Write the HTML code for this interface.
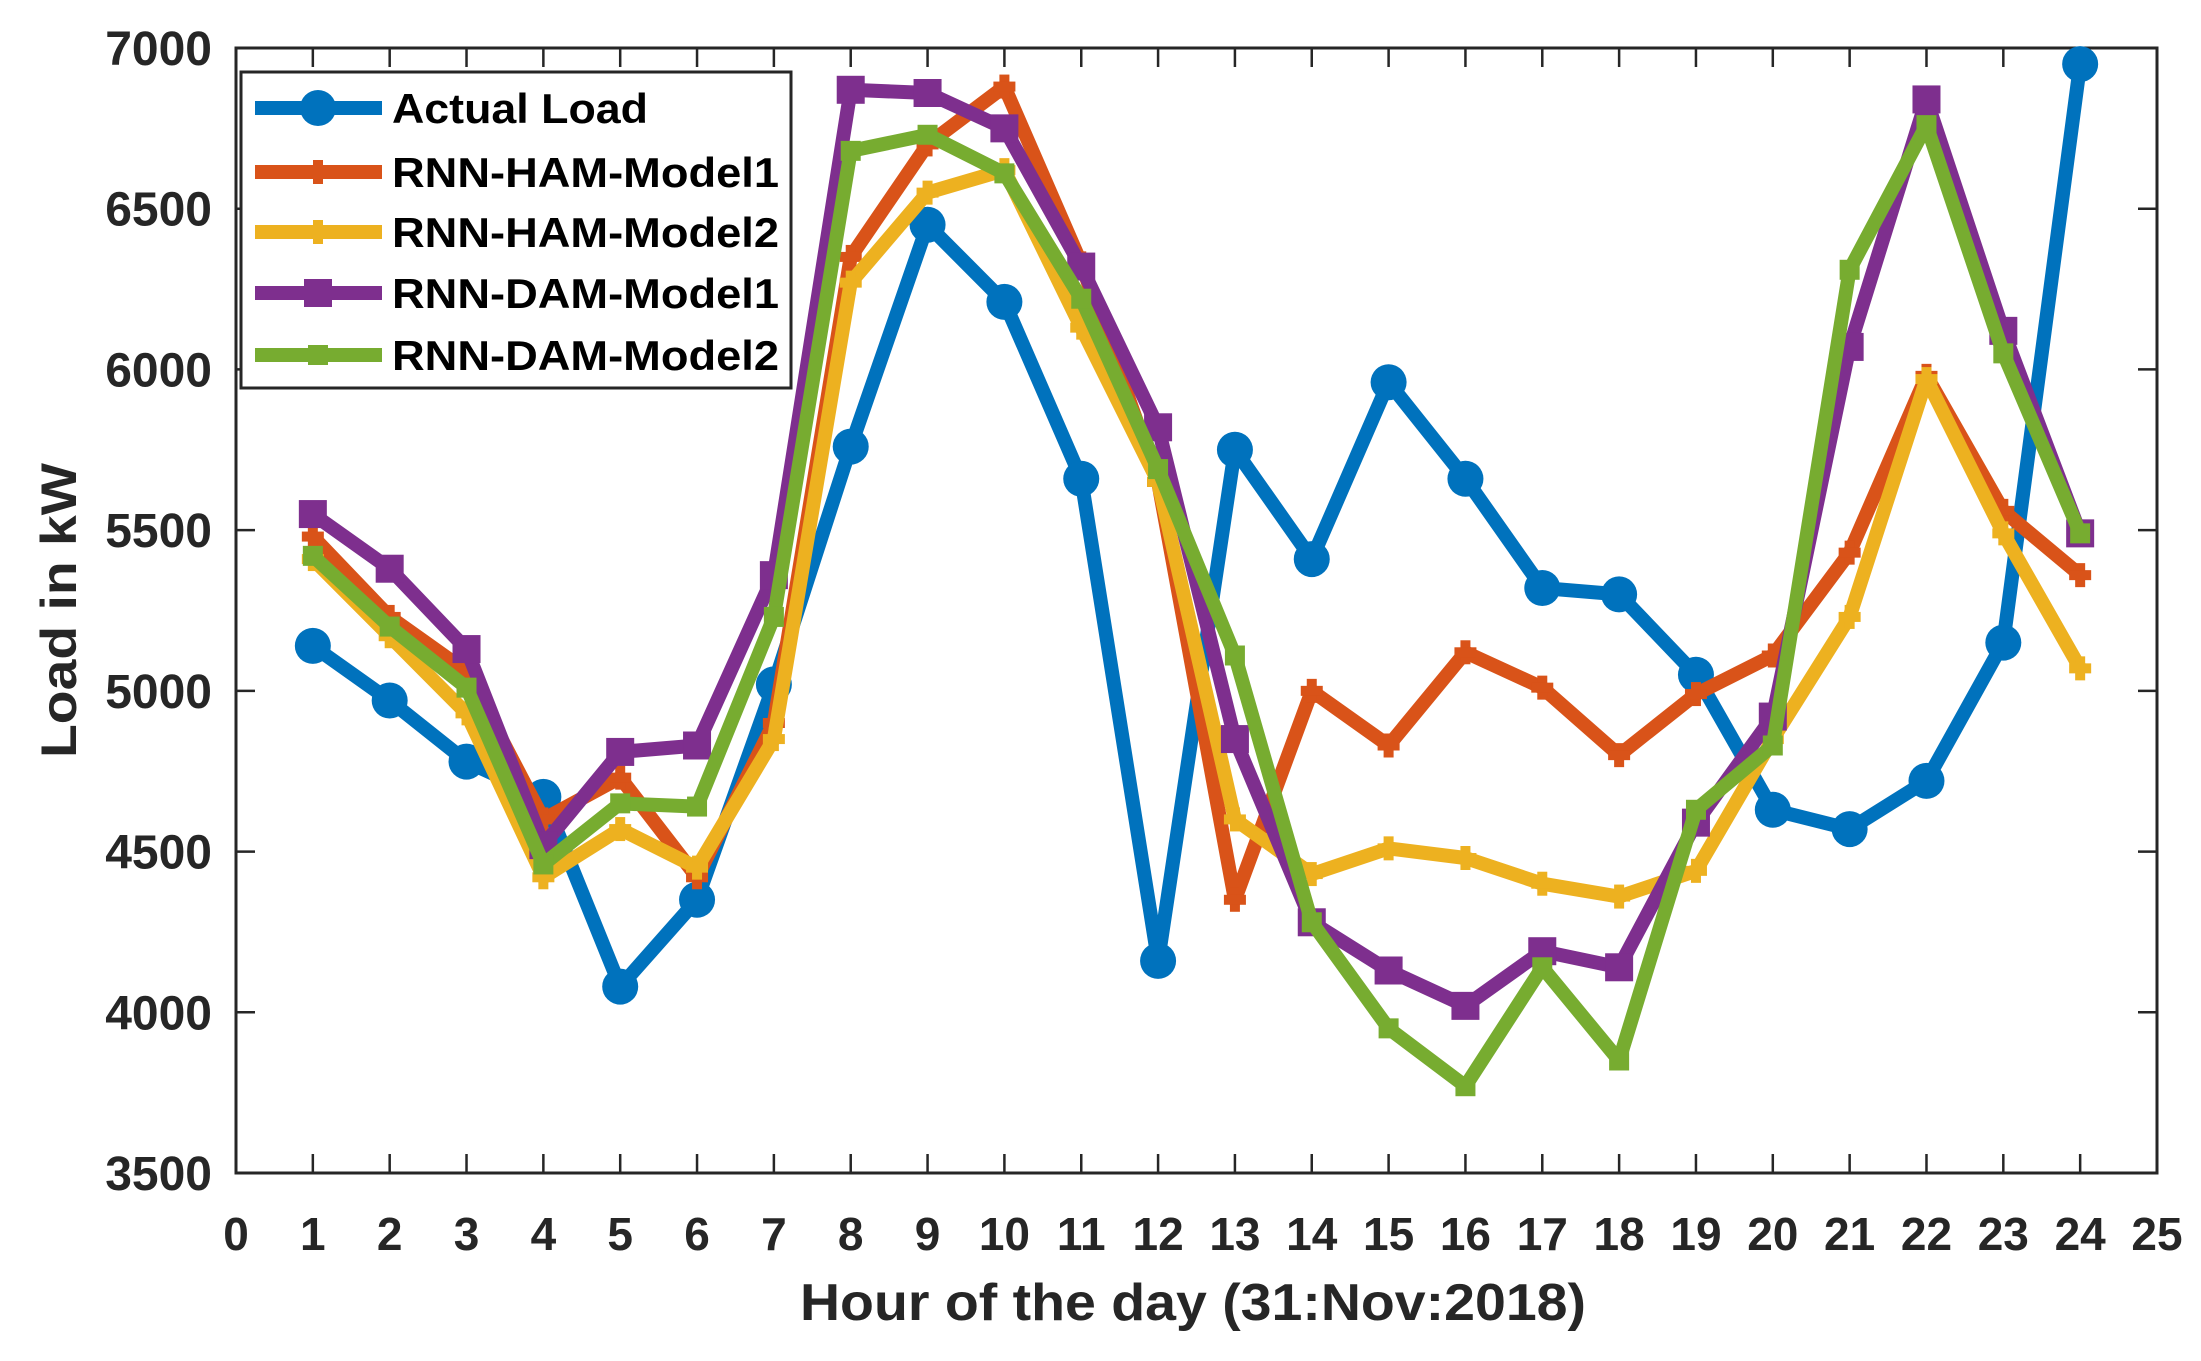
<!DOCTYPE html>
<html><head><meta charset="utf-8"><style>
html,body{margin:0;padding:0;background:#fff}
svg{display:block}
text{font-family:"Liberation Sans",Arial,sans-serif;font-weight:bold;fill:#262626}
</style></head><body>
<svg id="s" width="2201" height="1361" viewBox="0 0 2201 1361" xmlns="http://www.w3.org/2000/svg"></svg>
<script>
const s=document.getElementById('s');
const X0=236,X1=2157,Y0=48,Y1=1173;
const px=x=>X0+(X1-X0)*x/25, py=v=>Y0+(Y1-Y0)*(7000-v)/3500;
let h='';
const D=[
 ['#0072BD','o',[5140,4970,4780,4670,4080,4350,5020,5760,6450,6210,5660,4160,5750,5410,5960,5660,5320,5300,5050,4630,4570,4720,5150,6950]],
 ['#D95319','*',[5480,5230,5060,4600,4730,4420,4900,6350,6700,6880,6330,5650,4350,5000,4830,5120,5010,4800,4990,5110,5430,5980,5560,5360]],
 ['#EDB120','*',[5410,5170,4930,4420,4570,4450,4850,6270,6550,6620,6130,5650,4600,4430,4510,4480,4400,4360,4440,4850,5230,5970,5490,5070]],
 ['#7E2F8E','s',[5550,5380,5130,4520,4810,4830,5360,6870,6860,6750,6320,5820,4850,4280,4130,4020,4190,4140,4590,4920,6070,6840,6120,5490]],
 ['#77AC30','q',[5420,5200,5010,4460,4650,4640,5230,6680,6730,6610,6220,5690,5110,4280,3950,3770,4140,3850,4630,4830,6310,6760,6050,5490]]
];
function mk(t,c,x,y){
 if(t=='o')return `<circle cx="${x}" cy="${y}" r="18" fill="${c}"/>`;
 if(t=='s')return `<rect x="${x-14}" y="${y-14}" width="28" height="28" fill="${c}"/>`;
 if(t=='q')return `<rect x="${x-10}" y="${y-10}" width="20" height="20" fill="${c}"/>`;
 return `<rect x="${x-5}" y="${y-12}" width="10" height="24" fill="${c}"/><rect x="${x-11}" y="${y-5}" width="22" height="10" fill="${c}"/>`;
}
h+=`<rect x="${X0}" y="${Y0}" width="${X1-X0}" height="${Y1-Y0}" fill="#fff" stroke="#262626" stroke-width="3"/>`;
for(let i=0;i<=25;i++){const x=px(i);h+=`<line x1="${x}" y1="${Y1}" x2="${x}" y2="${Y1-19}" stroke="#262626" stroke-width="2.5"/><line x1="${x}" y1="${Y0}" x2="${x}" y2="${Y0+19}" stroke="#262626" stroke-width="2.5"/>`;
 h+=`<text x="${x}" y="1250" font-size="46" text-anchor="middle">${i}</text>`;}
for(let v=3500;v<=7000;v+=500){const y=py(v);h+=`<line x1="${X0}" y1="${y}" x2="${X0+19}" y2="${y}" stroke="#262626" stroke-width="2.5"/><line x1="${X1}" y1="${y}" x2="${X1-19}" y2="${y}" stroke="#262626" stroke-width="2.5"/>`;
 h+=`<text x="212" y="${y+17}" font-size="48" text-anchor="end">${v}</text>`;}
for(const [c,t,d] of D){
 const pts=d.map((v,i)=>px(i+1).toFixed(1)+','+py(v).toFixed(1)).join(' ');
 h+=`<polyline points="${pts}" fill="none" stroke="${c}" stroke-width="14" stroke-linejoin="round"/>`;
 d.forEach((v,i)=>h+=mk(t,c,px(i+1),py(v)));
}
h+=`<rect x="241" y="72" width="550" height="316" fill="#fff" stroke="#262626" stroke-width="3"/>`;
const L=['Actual Load','RNN-HAM-Model1','RNN-HAM-Model2','RNN-DAM-Model1','RNN-DAM-Model2'];
const LW=[256,387,387,387,387];
const LY=[108,172,232,293,355];
L.forEach((n,i)=>{const [c,t]=D[i];const y=LY[i];
 h+=`<line x1="255" y1="${y}" x2="382" y2="${y}" stroke="${c}" stroke-width="14"/>`+mk(t,c,318,y);
 h+=`<text x="392" y="${y+15}" font-size="42" style="fill:#000" textLength="${LW[i]}" lengthAdjust="spacingAndGlyphs">${n}</text>`;});
h+=`<text x="800" y="1320" font-size="52" textLength="786" lengthAdjust="spacingAndGlyphs">Hour of the day (31:Nov:2018)</text>`;
h+=`<text transform="translate(76,758) rotate(-90)" font-size="50" textLength="295" lengthAdjust="spacingAndGlyphs">Load in kW</text>`;
s.innerHTML=h;
</script>
</body></html>
